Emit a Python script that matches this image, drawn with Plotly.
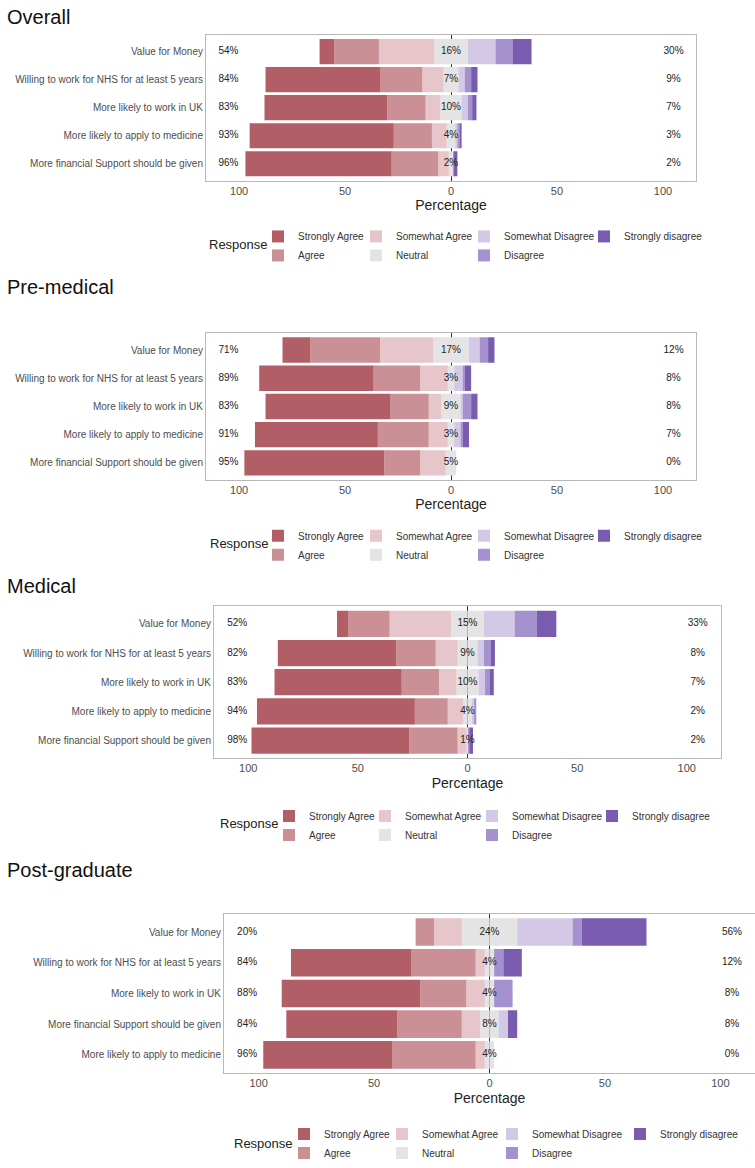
import plotly.graph_objects as go

W, H = 755, 1168

# ---------------- data ----------------
responses = ["Strongly Agree", "Agree", "Somewhat Agree", "Neutral",
             "Somewhat Disagree", "Disagree", "Strongly disagree"]
colors = ["#B25E66", "#CA9096", "#E6C6CA", "#E4E4E4", "#D3C8E6", "#A591CD", "#795CB0"]

cats_main = ["Value for Money", "Willing to work for NHS for at least 5 years",
             "More likely to work in UK", "More likely to apply to medicine",
             "More financial Support should be given"]
cats_pg = ["Value for Money", "Willing to work for NHS for at least 5 years",
           "More likely to work in UK", "More financial Support should be given",
           "More likely to apply to medicine"]

tick_vals = [-100, -50, 0, 50, 100]
tick_text = ["100", "50", "0", "50", "100"]

overall_sa = [7, 54, 58, 68, 69]
overall_a = [21, 20, 18, 18, 22]
overall_soma = [26, 10, 7, 7, 5]
overall_n = [16, 7, 10, 4, 2]
overall_somd = [13, 3, 3, 1, 0]
overall_d = [8, 3, 2, 1, 0.5]
overall_sd = [9, 3, 2, 1, 1.5]

pre_sa = [13, 54, 59, 58, 66]
pre_a = [33, 22, 18, 24, 17]
pre_soma = [25, 13, 6, 9, 12]
pre_n = [17, 3, 9, 3, 5]
pre_somd = [5, 4, 1, 3, 0]
pre_d = [4, 1, 4, 1, 0]
pre_sd = [3, 3, 3, 3, 0]

med_sa = [5, 54, 58, 72, 72]
med_a = [19, 18, 17, 15, 22]
med_soma = [28, 10, 8, 7, 4]
med_n = [15, 9, 10, 4, 1]
med_somd = [14, 3, 3, 1, 0]
med_d = [10, 3, 2, 1, 0.5]
med_sd = [9, 2, 2, 0, 1.5]

pg_sa = [0, 52, 60, 48, 56]
pg_a = [8, 28, 20, 28, 36]
pg_soma = [12, 4, 8, 8, 4]
pg_n = [24, 4, 4, 8, 4]
pg_somd = [24, 0, 0, 4, 0]
pg_d = [4, 4, 8, 0, 0]
pg_sd = [28, 8, 0, 4, 0]

panel_titles = ["Overall", "Pre-medical", "Medical", "Post-graduate"]

# ---------------- layout geometry (pixels) ----------------
def px(x):
    return x / W

def py(y):
    return 1 - y / H

panels = [
    dict(title=panel_titles[0], cats=cats_main,
         vals=[overall_sa, overall_a, overall_soma, overall_n, overall_somd, overall_d, overall_sd],
         box=(206, 696, 35, 181), rng=115.6, title_y=17, leg_y=236,
         leg_text_x=[300, 398, 506, 626], resp=(270, 245)),
    dict(title=panel_titles[1], cats=cats_main,
         vals=[pre_sa, pre_a, pre_soma, pre_n, pre_somd, pre_d, pre_sd],
         box=(206, 696, 334, 481), rng=115.6, title_y=288, leg_y=536,
         leg_text_x=[300, 398, 506, 626], resp=(271, 545)),
    dict(title=panel_titles[2], cats=cats_main,
         vals=[med_sa, med_a, med_soma, med_n, med_somd, med_d, med_sd],
         box=(214, 721, 608, 760), rng=115.6, title_y=588, leg_y=817,
         leg_text_x=[311, 407, 514, 634], resp=(281, 826)),
    dict(title=panel_titles[3], cats=cats_pg,
         vals=[pg_sa, pg_a, pg_soma, pg_n, pg_somd, pg_d, pg_sd],
         box=(224, 755, 916, 1076), rng=115.0, title_y=872, leg_y=1136,
         leg_text_x=[326, 424, 534, 662], resp=(295, 1146)),
]

LABEL_FONT = "Liberation Sans Narrow, Arial Narrow, Liberation Sans, Arial, sans-serif"
TITLE_FONT = "Liberation Sans, Arial, sans-serif"

fig = go.Figure()
layout = dict(
    width=W, height=H, autosize=False,
    margin=dict(l=0, r=0, t=0, b=0),
    paper_bgcolor="white", plot_bgcolor="white",
    barmode="relative", bargap=0.1,
    showlegend=True,
    annotations=[],
)

# legend column of each response (col, rank)
col_of = {0: (0, 1), 1: (0, 2), 2: (1, 1), 3: (1, 2), 4: (2, 1), 5: (2, 2), 6: (3, 1)}

for p, P in enumerate(panels):
    k = p + 1
    xa = "x" if k == 1 else f"x{k}"
    ya = "y" if k == 1 else f"y{k}"
    sa, a, soma, n, somd, d, sd = P["vals"]
    cats = P["cats"]

    def legname(c):
        idx = p * 4 + c + 1
        return "legend" if idx == 1 else f"legend{idx}"

    # stacking outward from zero: neutral halves, somewhat, agree/disagree, strongly
    stack = [
        (3, [-v / 2 for v in n], True),
        (3, [v / 2 for v in n], False),
        (2, [-v for v in soma], True),
        (4, list(somd), True),
        (1, [-v for v in a], True),
        (5, list(d), True),
        (0, [-v for v in sa], True),
        (6, list(sd), True),
    ]
    for ri, xs, show in stack:
        col, rank = col_of[ri]
        fig.add_trace(go.Bar(
            x=xs, y=cats, orientation="h", name=responses[ri],
            marker=dict(color=colors[ri], line=dict(width=0)),
            xaxis=xa, yaxis=ya, showlegend=show, legend=legname(col),
            legendrank=rank, hoverinfo="skip",
        ))

    left_lbl = [f"{round(s1 + s2 + s3)}%" for s1, s2, s3 in zip(sa, a, soma)]
    mid_lbl = [f"{round(v)}%" for v in n]
    right_lbl = [f"{round(s1 + s2 + s3)}%" for s1, s2, s3 in zip(somd, d, sd)]
    for xpos, lbls in ((-105, left_lbl), (0, mid_lbl), (105, right_lbl)):
        fig.add_trace(go.Scatter(
            x=[xpos] * len(cats), y=cats, mode="text", text=lbls,
            textfont=dict(size=10, color="#222222", family=LABEL_FONT),
            xaxis=xa, yaxis=ya, showlegend=False, hoverinfo="skip",
        ))

    x0, x1, y0, y1 = P["box"]
    layout[("xaxis" if k == 1 else f"xaxis{k}")] = dict(
        domain=[px(x0), min(px(x1), 1.0)], anchor=ya,
        range=[-P["rng"], P["rng"]],
        tickmode="array", tickvals=tick_vals, ticktext=tick_text,
        showgrid=False, zeroline=True, zerolinecolor="#333333", zerolinewidth=1,
        showline=True, mirror=True, linecolor="#B8B8B8", linewidth=1,
        ticks="", tickfont=dict(size=11, color="#4D4D4D", family=LABEL_FONT),
        title=dict(text="Percentage", font=dict(size=14, color="#222222", family=LABEL_FONT),
                   standoff=4),
        fixedrange=True,
    )
    layout[("yaxis" if k == 1 else f"yaxis{k}")] = dict(
        domain=[py(y1), py(y0)], anchor=xa,
        type="category", categoryorder="array", categoryarray=cats,
        range=[4.6, -0.6],
        showgrid=False, zeroline=False,
        showline=True, mirror=True, linecolor="#B8B8B8", linewidth=1,
        ticks="", tickfont=dict(size=10, color="#4D4D4D", family=LABEL_FONT),
        fixedrange=True,
    )

    for c in range(4):
        idx = p * 4 + c + 1
        lname = "legend" if idx == 1 else f"legend{idx}"
        layout[lname] = dict(
            orientation="v", x=px(P["leg_text_x"][c] - 42), xanchor="left",
            y=py(P["leg_y"] - 13.5), yanchor="top",
            xref="paper", yref="paper",
            bgcolor="rgba(0,0,0,0)", borderwidth=0,
            font=dict(size=10, color="#333333", family=LABEL_FONT),
            traceorder="normal", tracegroupgap=0,
        )

    layout["annotations"].append(dict(
        text=P["title"], x=px(5), y=py(P["title_y"]), xref="paper", yref="paper",
        xanchor="left", yanchor="middle", showarrow=False,
        font=dict(size=20, color="#111111", family=TITLE_FONT),
    ))
    layout["annotations"].append(dict(
        text="Response", x=px(P["resp"][0]), y=py(P["resp"][1]), xref="paper", yref="paper",
        xanchor="right", yanchor="middle", showarrow=False,
        font=dict(size=13, color="#222222", family=LABEL_FONT),
    ))

fig.update_layout(**layout)
fig.write_html("out.html", config={"displayModeBar": False},
               post_script="document.body.style.margin='0';")
